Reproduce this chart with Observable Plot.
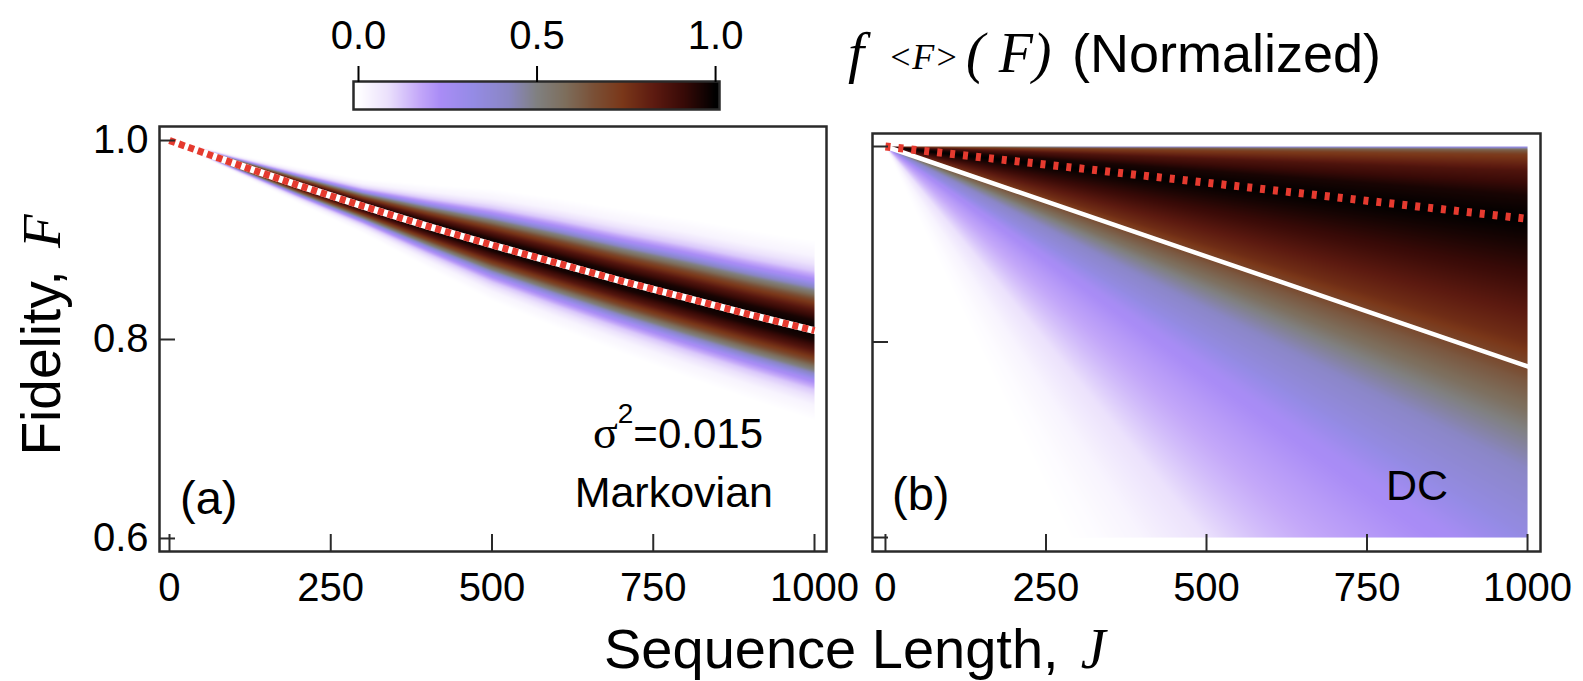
<!DOCTYPE html>
<html><head><meta charset="utf-8">
<script src="https://cdn.jsdelivr.net/npm/d3@7"></script>
<script src="https://cdn.jsdelivr.net/npm/@observablehq/plot@0.6"></script>
<style>
html,body{margin:0;padding:0;background:#fff;}
#root{position:relative;width:1583px;height:681px;overflow:hidden;background:#fff;}
#root > svg{position:absolute;}
</style></head><body><div id="root"></div>
<script>
// ---------- colour map (colour bar) ----------
const cmapPos    = [0, 0.08, 0.17, 0.23, 0.32, 0.42, 0.5, 0.58, 0.66, 0.74, 0.83, 0.91, 1];
const cmapColors = ["#ffffff","#ece2fc","#c4a8f9","#a98cf6","#958be6","#8a86c4","#808080","#7d6e5c","#7a5036","#7a3719","#5c1a10","#380a07","#000000"];
const colorTicks = [0, 0.5, 1];

// ---------- axes ----------
const jTicks = [0, 250, 500, 750, 1000];
const fTicks = [0.6, 0.8, 1.0];

// ---------- panel (a): Markovian ----------
const markovJ         = [0, 100, 200, 300, 400, 500, 600, 700, 800, 900, 1000];
const markovMeanF     = [1.000, 0.977, 0.955, 0.934, 0.914, 0.895, 0.877, 0.859, 0.842, 0.825, 0.809];
const markovHalfWidth = [0, 0.005, 0.010, 0.015, 0.023, 0.031, 0.036, 0.040, 0.044, 0.047, 0.050];
const markovProfileZ  = [0, 0.2, 0.4, 0.6, 0.8, 1.0, 1.2, 1.5, 1.8];
const markovProfileV  = [1, 0.96, 0.85, 0.70, 0.50, 0.25, 0.12, 0.03, 0];

// ---------- panel (b): DC ----------
// normalized density vs (1-F) at J = 1000 (distribution scales with J)
const dcDepth   = [0, 0.003, 0.008, 0.025, 0.05, 0.075, 0.1, 0.135, 0.17, 0.2, 0.24, 0.27, 0.29, 0.34, 0.4, 0.45, 0.53, 0.67, 0.8, 1.0, 1.2, 1.4];
const dcDensity = [0.25, 0.6, 0.72, 0.86, 0.96, 1.0, 0.96, 0.9, 0.83, 0.77, 0.64, 0.57, 0.5, 0.4, 0.33, 0.24, 0.2, 0.14, 0.08, 0.03, 0.01, 0];
const dcLineJ   = [0, 1000];
const dcMeanF   = [1.0, 0.926];
const dcRefF    = [1.0, 0.775];

const SANS  = '"Liberation Sans", Arial, Helvetica, sans-serif';
const SERIF = '"Liberation Serif", "Times New Roman", serif';
const RED = "#e53a2f";
const INK = "#2a2a2a";

const colorScale = {type: "linear", domain: cmapPos, range: cmapColors, interpolate: "rgb", clamp: true};
const root = document.getElementById("root");
function place(el, left, top) { el.style.left = left + "px"; el.style.top = top + "px"; root.appendChild(el); }

// ---------- panel (a) ----------
const A = {left: 0, top: 110, width: 870, height: 510, mL: 159, mR: 44, mT: 16, mB: 69, xDom: [-15.5, 1018.6], yDom: [0.5869, 1.0141]};
const meanA = d3.scaleLinear(markovJ, markovMeanF).clamp(true);
const halfA = d3.scaleLinear(markovJ, markovHalfWidth).clamp(true);
const profA = d3.scaleLinear(markovProfileZ, markovProfileV).clamp(true);
function fillA(J, F) { const h = halfA(J); if (!(h > 0)) return 0; return profA(Math.abs(F - meanA(J)) / h); }
const markovData = markovJ.map((J, i) => ({J, F: markovMeanF[i]}));

function panel(P, fillFn, lineMarks, showY) {
  const pxJ = (P.width - P.mL - P.mR) / (P.xDom[1] - P.xDom[0]);
  const pxF = (P.height - P.mT - P.mB) / (P.yDom[1] - P.yDom[0]);
  const marks = [
    Plot.raster({x1: 0, x2: 1000, y1: 0.6, y2: 1.0, fill: fillFn, pixelSize: 1}),
    ...lineMarks,
    Plot.ruleX(jTicks, {y1: P.yDom[0], y2: P.yDom[0] + 17 / pxF, stroke: INK, strokeWidth: 2}),
    Plot.ruleY(fTicks, {x1: P.xDom[0], x2: P.xDom[0] + 16 / pxJ, stroke: INK, strokeWidth: 2}),
    Plot.frame({stroke: INK, strokeWidth: 2.5}),
    Plot.axisX(jTicks, {tickSize: 0, tickPadding: 21, tickFormat: d3.format("d"), label: null, fontSize: 40})
  ];
  if (showY) marks.push(Plot.axisY(fTicks, {tickSize: 0, tickPadding: 11, tickFormat: d3.format(".1f"), label: null, fontSize: 40}));
  const svg = Plot.plot({
    width: P.width, height: P.height,
    marginLeft: P.mL, marginRight: P.mR, marginTop: P.mT, marginBottom: P.mB,
    x: {domain: P.xDom},
    y: showY ? {domain: P.yDom} : {domain: P.yDom, axis: null},
    color: colorScale,
    style: {fontFamily: SANS, fontSize: "40px", background: "none", overflow: "visible", color: "#000"},
    marks
  });
  place(svg, P.left, P.top);
}

panel(A, fillA, [
  Plot.line(markovData, {x: "J", y: "F", stroke: "white", strokeWidth: 7, curve: "monotone-x"}),
  Plot.line(markovData, {x: "J", y: "F", stroke: RED, strokeWidth: 7, strokeDasharray: "6,4", strokeLinecap: "butt", curve: "monotone-x"})
], true);

// ---------- panel (b) ----------
const B = {left: 862, top: 110, width: 721, height: 510, mL: 10, mR: 43, mT: 23, mB: 69, xDom: [-20.2, 1020.2], yDom: [0.5857, 1.0133]};
const profB = d3.scaleLinear(dcDepth, dcDensity).clamp(true);
function fillB(J, F) { if (J <= 0) return 0; return profB((1 - F) * 1000 / J); }
const dcMean = dcLineJ.map((J, i) => ({J, F: dcMeanF[i]}));
const dcRef  = dcLineJ.map((J, i) => ({J, F: dcRefF[i]}));
panel(B, fillB, [
  Plot.line(dcRef,  {x: "J", y: "F", stroke: "white", strokeWidth: 4.5}),
  Plot.line(dcMean, {x: "J", y: "F", stroke: RED, strokeWidth: 8, strokeDasharray: "5,8", strokeLinecap: "butt"})
], false);

// ---------- colour bar ----------
const CB = {left: 330, top: 0, width: 420, height: 115, mL: 23, mR: 31, mT: 81, mB: 6, xDom: [-0.014, 1.011]};
const cbSvg = Plot.plot({
  width: CB.width, height: CB.height,
  marginLeft: CB.mL, marginRight: CB.mR, marginTop: CB.mT, marginBottom: CB.mB,
  x: {domain: CB.xDom}, y: {domain: [0, 1], axis: null},
  color: colorScale,
  style: {fontFamily: SANS, fontSize: "40px", background: "none", overflow: "visible", color: "#000"},
  marks: [
    Plot.raster({x1: CB.xDom[0], x2: CB.xDom[1], y1: 0, y2: 1, fill: (x) => Math.max(0, Math.min(1, x)), pixelSize: 1}),
    Plot.frame({stroke: INK, strokeWidth: 2.5}),
    Plot.axisX(colorTicks, {anchor: "top", tickSize: 16, tickPadding: 17, tickFormat: d3.format(".1f"), label: null, strokeWidth: 2, fontSize: 40})
  ]
});
place(cbSvg, CB.left, CB.top);

// ---------- text overlay ----------
const ov = d3.select(root).append("svg").attr("width", 1583).attr("height", 681)
  .style("position", "absolute").style("left", "0px").style("top", "0px").style("pointer-events", "none");
function st(sel, fam, size, italic) {
  return sel.style("font-family", fam).style("font-size", size + "px").style("font-style", italic ? "italic" : "normal").style("white-space", "pre");
}
// title
const tt = ov.append("text").attr("fill", "#000");
st(tt.append("tspan").attr("x", 848).attr("y", 72), SERIF, 58, true).text("f");
st(tt.append("tspan").attr("x", 888).attr("y", 69), SERIF, 36, true).text("<F>");
st(tt.append("tspan").attr("x", 966).attr("y", 72), SERIF, 56, true).text("( F)");
st(tt.append("tspan").attr("x", 1072).attr("y", 72), SANS, 54, false).text("(Normalized)");
// y title
const yt = ov.append("text").attr("transform", "translate(60,335) rotate(-90)").attr("text-anchor", "middle").attr("fill", "#000");
st(yt.append("tspan"), SANS, 55, false).text("Fidelity,");
st(yt.append("tspan").attr("dx", 22), SERIF, 55, true).text("F");
// x title
const xt = ov.append("text").attr("x", 604).attr("y", 668).attr("fill", "#000");
st(xt.append("tspan"), SANS, 56, false).text("Sequence Length,");
st(xt.append("tspan").attr("dx", 22), SERIF, 56, true).text("J");
// panel annotations
st(ov.append("text").attr("x", 180).attr("y", 514), SANS, 47, false).text("(a)");
st(ov.append("text").attr("x", 892).attr("y", 510), SANS, 47, false).text("(b)");
st(ov.append("text").attr("x", 773).attr("y", 507).attr("text-anchor", "end"), SANS, 43, false).text("Markovian");
st(ov.append("text").attr("x", 1386).attr("y", 500), SANS, 43, false).text("DC");
const sg = ov.append("text").attr("x", 763).attr("y", 448).attr("text-anchor", "end");
st(sg.append("tspan"), SERIF, 46, false).text("σ");
st(sg.append("tspan").attr("dy", -25), SANS, 28, false).text("2");
st(sg.append("tspan").attr("dy", 25), SANS, 42, false).text("=0.015");
</script></body></html>
